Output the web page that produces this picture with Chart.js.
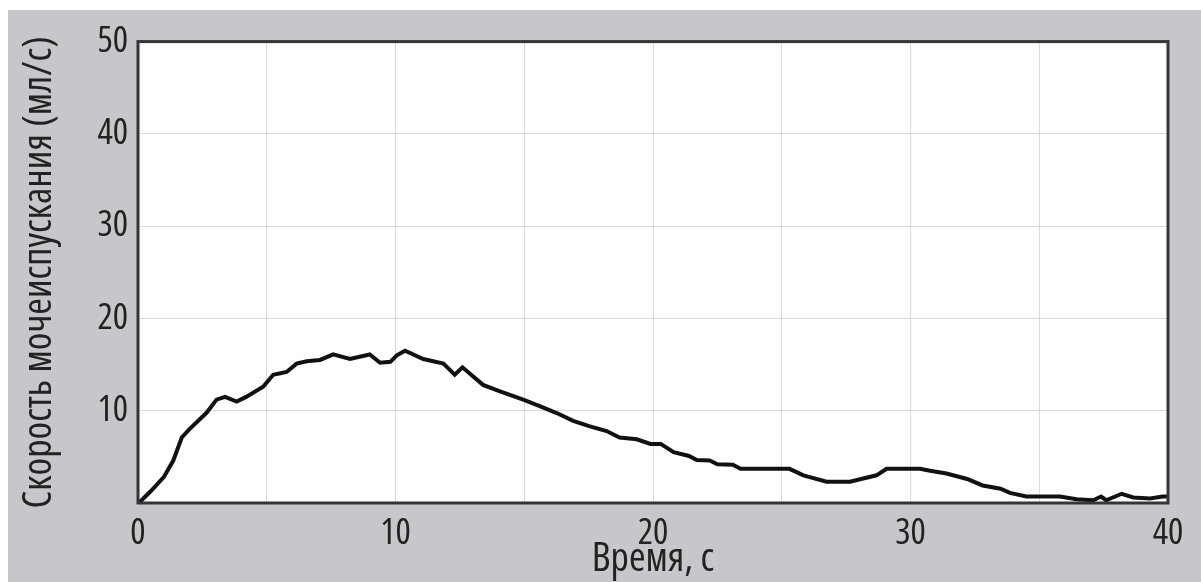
<!DOCTYPE html>
<html>
<head>
<meta charset="utf-8">
<script src="https://cdn.jsdelivr.net/npm/chart.js@4.4.1/dist/chart.umd.min.js"></script>
<style>
    html, body { margin: 0; padding: 0; background: #fff; }
    #panel {
        position: absolute;
        left: 8px;
        top: 10px;
        width: 1193px;
        height: 572px;
        background: #c5c7ca;
    }
</style>
</head>
<body>
<div id="panel"><canvas id="flowChart" width="1193" height="572"></canvas></div>
<script>
// Время, с
const timeS = [0, 0.14, 0.5, 1.0, 1.37, 1.7, 2.0, 2.67, 3.05, 3.38, 3.83, 4.2, 4.86, 5.25, 5.77, 6.16, 6.55, 7.07, 7.58, 8.23,
    9.0, 9.4, 9.8, 10.05, 10.37, 11.08, 11.86, 12.3, 12.6, 13.4, 14.06, 14.96, 15.6, 16.26, 16.9, 17.55, 18.2, 18.7, 19.37, 19.9,
    20.3, 20.8, 21.4, 21.7, 22.2, 22.5, 23.1, 23.4, 25.3, 25.84, 26.74, 27.65, 28.68, 29.07, 30.37, 30.76, 31.4, 32.2, 32.8, 33.5,
    33.86, 34.5, 35.8, 36.45, 37.1, 37.4, 37.6, 38.2, 38.65, 39.3, 39.8, 40];
// Скорость мочеиспускания, мл/с
const flowRate = [0, 0.3, 1.3, 2.8, 4.6, 7.1, 8.0, 9.8, 11.2, 11.5, 11.0, 11.5, 12.6, 13.9, 14.2, 15.1, 15.35, 15.5, 16.1, 15.6,
    16.1, 15.2, 15.3, 16.0, 16.5, 15.6, 15.1, 13.9, 14.7, 12.8, 12.1, 11.2, 10.5, 9.75, 8.9, 8.3, 7.8, 7.1, 6.9, 6.4,
    6.4, 5.5, 5.1, 4.65, 4.6, 4.2, 4.15, 3.7, 3.7, 3.0, 2.3, 2.3, 3.0, 3.7, 3.7, 3.5, 3.2, 2.6, 1.9, 1.55,
    1.1, 0.7, 0.7, 0.4, 0.3, 0.7, 0.3, 1.0, 0.6, 0.5, 0.7, 0.7];

const yTitle = 'Скорость мочеиспускания (мл/с)';
const xTitle = 'Время, с';

// the original uses a condensed face; pick the narrowest installed one.
// the stretch keyword goes into the font shorthand (through "weight")
const probe = document.createElement('canvas').getContext('2d');
function measure(family, stretch, text) {
    probe.font = (stretch ? stretch + ' ' : '') + '100px ' + family;
    return probe.measureText(text).width / 100;
}
let fontFamily = "'DejaVu Sans'";
let fontStretch = '';
let best = Infinity;
["'Open Sans'", "'DejaVu Sans'", "'Noto Sans'", 'Roboto', 'Lato', "'Liberation Sans'"].forEach(f => {
    ['extra-condensed', 'condensed', ''].forEach(s => {
        const w = measure(f, s, yTitle);
        if (w < best - 0.01) { best = w; fontFamily = f; fontStretch = s; }
    });
});
const titleSize = Math.round(Math.min(40, 468 / measure(fontFamily, fontStretch, yTitle)));
const tickSize = Math.round(Math.min(36, 32 / measure(fontFamily, fontStretch, '50')));
const xTitleSize = Math.round(Math.min(40, 124 / measure(fontFamily, fontStretch, xTitle)));
const fontWeight = fontStretch || undefined;

// white plot area + dark frame around it
const plotFrame = {
    id: 'plotFrame',
    beforeDraw(chart) {
        const { ctx, chartArea: a } = chart;
        ctx.save();
        ctx.fillStyle = '#ffffff';
        ctx.fillRect(a.left, a.top, a.right - a.left, a.bottom - a.top);
        ctx.restore();
    },
    afterDraw(chart) {
        const { ctx, chartArea: a } = chart;
        ctx.save();
        ctx.strokeStyle = '#333538';
        ctx.lineWidth = 3;
        ctx.strokeRect(a.left, a.top, a.right - a.left, a.bottom - a.top);
        ctx.restore();
    }
};

const ctx = document.getElementById('flowChart').getContext('2d');
const flowChart = new Chart(ctx, {
    type: 'line',
    data: {
        datasets: [
            {
                data: timeS.map((t, i) => ({ x: t, y: flowRate[i] })),
                borderColor: '#111111',
                borderWidth: 4,
                pointRadius: 0,
                fill: false,
                tension: 0
            }
        ]
    },
    options: {
        responsive: false,
        animation: false,
        layout: {
            padding: { left: 0, top: 25, right: 33, bottom: 0 }
        },
        scales: {
            x: {
                type: 'linear',
                min: 0,
                max: 40,
                afterFit: (scale) => { scale.height = 79; },
                grid: { color: '#dadada', lineWidth: 1, drawTicks: false },
                border: { display: false },
                ticks: {
                    stepSize: 5,
                    padding: 9,
                    maxRotation: 0,
                    autoSkip: false,
                    color: '#222',
                    font: { family: fontFamily, weight: fontWeight, size: tickSize },
                    callback: (v) => (v % 10 === 0 ? v : '')
                },
                title: {
                    display: true,
                    text: xTitle,
                    color: '#222',
                    font: { family: fontFamily, weight: fontWeight, size: xTitleSize },
                    padding: { top: -2, bottom: -2 }
                }
            },
            y: {
                min: 0,
                max: 50,
                afterFit: (scale) => { scale.width = 130; },
                grid: { color: '#dadada', lineWidth: 1, drawTicks: false },
                border: { display: false },
                ticks: {
                    stepSize: 10,
                    padding: 10,
                    color: '#222',
                    font: { family: fontFamily, weight: fontWeight, size: tickSize },
                    callback: (v) => (v === 0 ? '' : v)
                },
                title: {
                    display: true,
                    text: yTitle,
                    color: '#222',
                    font: { family: fontFamily, weight: fontWeight, size: titleSize },
                    padding: { top: 8, bottom: 8 }
                }
            }
        },
        plugins: {
            legend: { display: false },
            tooltip: { enabled: false }
        }
    },
    plugins: [plotFrame]
});
</script>
</body>
</html>
